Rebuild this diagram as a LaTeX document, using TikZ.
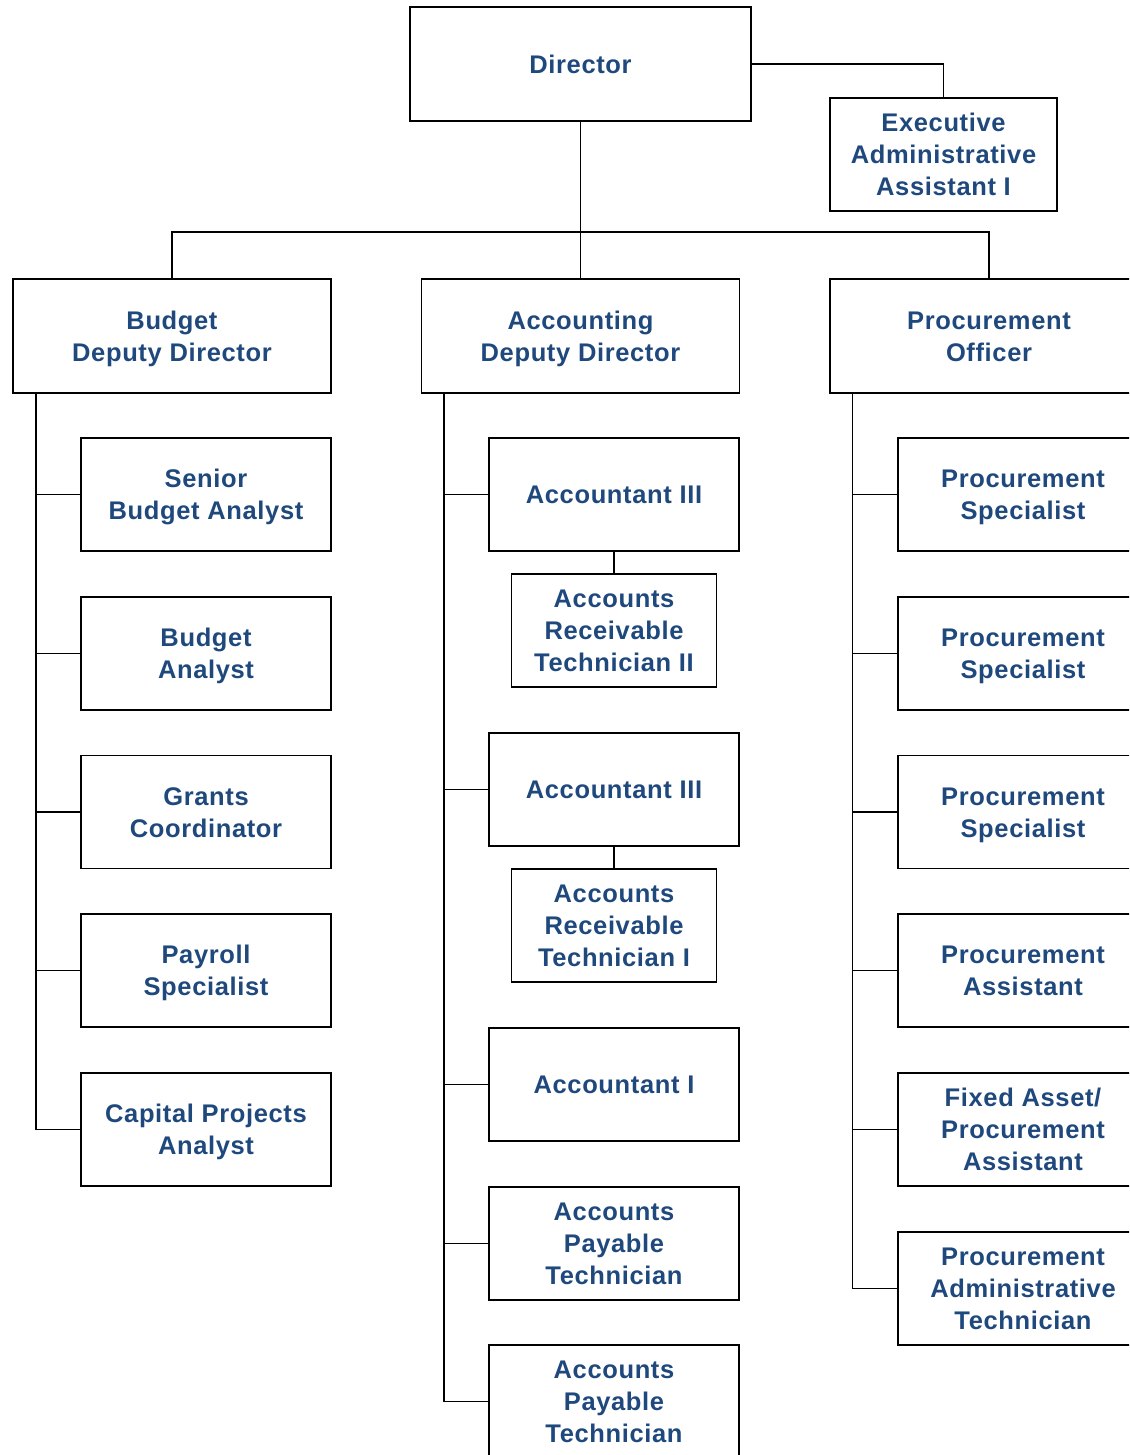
\documentclass[tikz,border=0pt]{standalone}
\usepackage{fontspec}
\setmainfont{Liberation Sans}[LetterSpace=2.5]
\definecolor{txtblue}{HTML}{1F497D}
\newcommand\ts{\rule[-6.9pt]{0pt}{32pt}}
\begin{document}
\begin{tikzpicture}[x=1pt,y=-1pt,
  box/.style={draw=black,line width=1.8pt,fill=white,rectangle,inner sep=0pt,
    text=txtblue,align=center,font=\fontsize{25.5}{32}\selectfont\bfseries},
  big/.style={box,minimum width=318pt,minimum height=114pt},
  sub/.style={box,minimum width=250pt,minimum height=113pt},
  small/.style={box,minimum width=205pt,minimum height=113pt},
  link/.style={draw=black,line width=1.8pt}]
\clip (0,0) rectangle (1129,1455);
\useasboundingbox (0,0) rectangle (1129,1455);
\fill[white] (0,0) rectangle (1129,1455);

% top
\node[box,minimum width=341pt,minimum height=114pt] (dir) at (580.5,64) {\ts Director};
\node[box,minimum width=227pt,minimum height=113pt] (exec) at (943.5,154.5) {\ts Executive\\\ts Administrative\\\ts Assistant I};
\coordinate (bar) at (580.5,232);

% level 2
\node[big] (bud) at (172,336) {\ts Budget\\\ts Deputy Director};
\node[big] (acc) at (580.5,336) {\ts Accounting\\\ts Deputy Director};
\node[big] (proc) at (989,336) {\ts Procurement\\\ts Officer};

\draw[link] (dir.east) -| (exec.north);
\draw[link] (dir.south) -- (acc.north);
\draw[link] (bud.north) -- (bud.north |- bar) -| (proc.north);

% budget column
\node[sub] (b1) at (206,494.5) {\ts Senior\\\ts Budget Analyst};
\node[sub] (b2) at (206,653.5) {\ts Budget\\\ts Analyst};
\node[sub] (b3) at (206,812) {\ts Grants\\\ts Coordinator};
\node[sub] (b4) at (206,970.5) {\ts Payroll\\\ts Specialist};
\node[sub] (b5) at (206,1129.5) {\ts Capital Projects\\\ts Analyst};
\coordinate (bs) at (36,393);
\draw[link] (bs) |- (b5.west);
\foreach \n in {b1,b2,b3,b4}{\draw[link] (bs |- \n.west) -- (\n.west);}

% accounting column
\node[sub] (a1) at (614,494.5) {\ts Accountant III};
\node[small] (a1s) at (614,630.5) {\ts Accounts\\\ts Receivable\\\ts Technician II};
\node[sub] (a2) at (614,789.5) {\ts Accountant III};
\node[small] (a2s) at (614,925.5) {\ts Accounts\\\ts Receivable\\\ts Technician I};
\node[sub] (a3) at (614,1084.5) {\ts Accountant I};
\node[sub] (a4) at (614,1243.5) {\ts Accounts\\\ts Payable\\\ts Technician};
\node[sub] (a5) at (614,1401.5) {\ts Accounts\\\ts Payable\\\ts Technician};
\coordinate (as) at (444,393);
\draw[link] (as) |- (a5.west);
\foreach \n in {a1,a2,a3,a4}{\draw[link] (as |- \n.west) -- (\n.west);}
\draw[link] (a1.south) -- (a1s.north);
\draw[link] (a2.south) -- (a2s.north);

% procurement column
\node[sub] (p1) at (1023,494.5) {\ts Procurement\\\ts Specialist};
\node[sub] (p2) at (1023,653.5) {\ts Procurement\\\ts Specialist};
\node[sub] (p3) at (1023,812) {\ts Procurement\\\ts Specialist};
\node[sub] (p4) at (1023,970.5) {\ts Procurement\\\ts Assistant};
\node[sub] (p5) at (1023,1129.5) {\ts Fixed Asset/\\\ts Procurement\\\ts Assistant};
\node[sub] (p6) at (1023,1288.5) {\ts Procurement\\\ts Administrative\\\ts Technician};
\coordinate (ps) at (852.5,393);
\draw[link] (ps) |- (p6.west);
\foreach \n in {p1,p2,p3,p4,p5}{\draw[link] (ps |- \n.west) -- (\n.west);}
\end{tikzpicture}
\end{document}
